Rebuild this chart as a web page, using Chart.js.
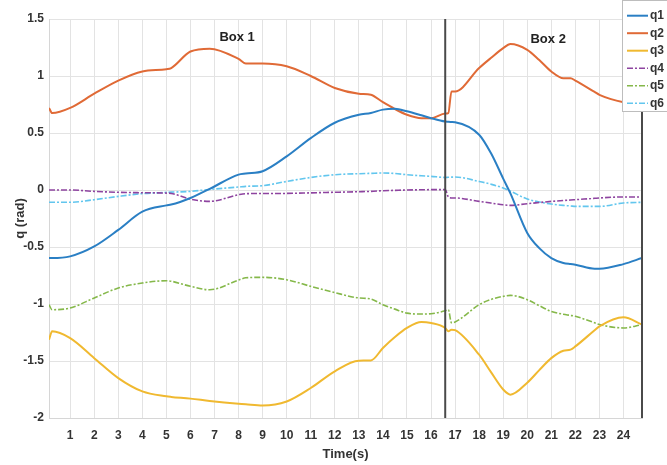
<!DOCTYPE html>
<html>
<head>
<meta charset="utf-8">
<script src="https://cdn.jsdelivr.net/npm/chart.js@4.4.1/dist/chart.umd.min.js"></script>
<style>
  html, body { margin: 0; padding: 0; background: #fff; }
  #wrap { width: 667px; height: 465px; }
</style>
</head>
<body>
<div id="wrap"><canvas id="lineChart"></canvas></div>
<script>
// time samples (s)
var time = [0.12, 0.25, 1, 2, 3, 4, 5, 5.2, 6, 6.8, 8, 8.3, 9, 10, 11, 12, 13, 13.5, 14, 14.5, 15, 15.6, 16, 16.59, 16.72, 16.85, 17, 18, 18.5, 19, 19.3, 20, 20.5, 21, 21.5, 21.8, 22, 22.8, 23, 24, 24.77];

var q1 = [-0.597, -0.597, -0.582, -0.495, -0.35, -0.19, -0.135, -0.128, -0.07, 0.01, 0.135, 0.145, 0.165, 0.295, 0.455, 0.59, 0.66, 0.675, 0.705, 0.712, 0.69, 0.655, 0.63, 0.6, 0.598, 0.597, 0.595, 0.485, 0.32, 0.1, -0.03, -0.377, -0.51, -0.597, -0.64, -0.65, -0.655, -0.69, -0.69, -0.65, -0.597];
var q2 = [0.72, 0.675, 0.72, 0.845, 0.96, 1.04, 1.06, 1.07, 1.215, 1.24, 1.15, 1.11, 1.11, 1.085, 1.0, 0.895, 0.845, 0.835, 0.77, 0.71, 0.66, 0.63, 0.63, 0.67, 0.675, 0.865, 0.865, 1.07, 1.16, 1.245, 1.28, 1.23, 1.14, 1.04, 0.98, 0.98, 0.96, 0.86, 0.835, 0.77, 0.75];
var q3 = [-1.313, -1.24, -1.3, -1.475, -1.65, -1.767, -1.81, -1.815, -1.83, -1.85, -1.875, -1.88, -1.89, -1.855, -1.737, -1.59, -1.497, -1.495, -1.386, -1.29, -1.21, -1.158, -1.167, -1.21, -1.24, -1.225, -1.23, -1.445, -1.6, -1.75, -1.795, -1.69, -1.58, -1.475, -1.41, -1.4, -1.372, -1.23, -1.196, -1.117, -1.18];
var q4 = [0, 0, 0, -0.012, -0.02, -0.024, -0.027, -0.03, -0.08, -0.1, -0.041, -0.032, -0.031, -0.03, -0.025, -0.02, -0.015, -0.012, -0.006, -0.003, 0, 0.002, 0.003, 0.003, -0.06, -0.07, -0.07, -0.1, -0.115, -0.13, -0.135, -0.12, -0.11, -0.1, -0.092, -0.088, -0.085, -0.073, -0.07, -0.061, -0.061];
var q5 = [-1.006, -1.05, -1.035, -0.947, -0.86, -0.816, -0.796, -0.8, -0.845, -0.875, -0.79, -0.77, -0.766, -0.787, -0.845, -0.9, -0.947, -0.956, -1.006, -1.045, -1.08, -1.088, -1.085, -1.06, -1.05, -1.165, -1.158, -1.006, -0.96, -0.933, -0.924, -0.962, -1.015, -1.065, -1.09, -1.1, -1.108, -1.165, -1.18, -1.21, -1.18];
var q6 = [-0.108, -0.108, -0.108, -0.085, -0.056, -0.032, -0.021, -0.019, -0.012, 0.005, 0.026, 0.032, 0.038, 0.075, 0.11, 0.134, 0.143, 0.146, 0.149, 0.145, 0.134, 0.125, 0.12, 0.11, 0.112, 0.113, 0.114, 0.075, 0.05, 0.018, -0.01, -0.079, -0.105, -0.123, -0.135, -0.14, -0.144, -0.144, -0.144, -0.114, -0.108];

var seriesNames = ['q1', 'q2', 'q3', 'q4', 'q5', 'q6'];
var xTicks = [1, 2, 3, 4, 5, 6, 7, 8, 9, 10, 11, 12, 13, 14, 15, 16, 17, 18, 19, 20, 21, 22, 23, 24];
var markerTimes = [16.59, 24.77];
var boxLabels = ['Box 1', 'Box 2'];
var boxLabelAt = [[7.94, 1.336], [20.87, 1.318]];

var colors = ['#2a7fc4', '#e06a36', '#f0b930', '#8e44a0', '#85b84a', '#62c6ee'];
var dashes = [[], [], [], [6, 2, 2, 2], [6, 2, 2, 2], [6, 2, 2, 2]];
var widths = [2, 2, 2, 1.6, 1.6, 1.6];
var FONT = "'Liberation Sans Narrow', 'Liberation Sans', Arial, sans-serif";

function pairs(vals) {
    return time.map(function (t, i) { return { x: t, y: vals[i] }; });
}

var allSeries = [q1, q2, q3, q4, q5, q6];
var datasets = allSeries.map(function (vals, i) {
    return {
        label: seriesNames[i],
        data: pairs(vals),
        borderColor: colors[i],
        backgroundColor: colors[i],
        borderWidth: widths[i],
        borderDash: dashes[i],
        pointRadius: 0,
        cubicInterpolationMode: 'monotone',
        fill: false
    };
});

var extras = {
    id: 'extras',
    afterDatasetsDraw: function (chart) {
        var c = chart.ctx, xs = chart.scales.x, ys = chart.scales.y;
        c.save();
        c.strokeStyle = '#4a4a4a';
        c.lineWidth = 2;
        markerTimes.forEach(function (t) {
            var px = xs.getPixelForValue(t);
            c.beginPath();
            c.moveTo(px, ys.getPixelForValue(1.5));
            c.lineTo(px, ys.getPixelForValue(-2));
            c.stroke();
        });
        c.fillStyle = '#222';
        c.font = 'bold 13px ' + FONT;
        c.textAlign = 'center';
        c.textBaseline = 'middle';
        boxLabels.forEach(function (txt, i) {
            c.fillText(txt, xs.getPixelForValue(boxLabelAt[i][0]), ys.getPixelForValue(boxLabelAt[i][1]));
        });
        c.restore();
    },
    afterDraw: function (chart) {
        var c = chart.ctx;
        c.save();
        c.fillStyle = '#fff';
        c.strokeStyle = '#bdbdbd';
        c.lineWidth = 1;
        c.fillRect(622.5, 0.5, 50, 111);
        c.strokeRect(622.5, 0.5, 50, 111);
        c.font = 'bold 12px ' + FONT;
        c.textAlign = 'left';
        c.textBaseline = 'middle';
        chart.data.datasets.forEach(function (ds, i) {
            var y = 15.7 + i * 17.5;
            c.strokeStyle = ds.borderColor;
            c.lineWidth = ds.borderWidth;
            c.setLineDash(ds.borderDash);
            c.beginPath();
            c.moveTo(627, y);
            c.lineTo(648, y);
            c.stroke();
            c.setLineDash([]);
            c.fillStyle = '#333';
            c.fillText(ds.label, 650, y);
        });
        c.restore();
    }
};

var ctx = document.getElementById('lineChart').getContext('2d');
var myChart = new Chart(ctx, {
    type: 'line',
    data: { datasets: datasets },
    options: {
        responsive: true,
        maintainAspectRatio: false,
        animation: false,
        layout: { padding: { top: 19, right: 25, left: 0, bottom: 0 } },
        plugins: { legend: { display: false }, tooltip: { enabled: false } },
        scales: {
            x: {
                type: 'linear',
                min: 0.12,
                max: 24.77,
                afterBuildTicks: function (scale) {
                    scale.ticks = xTicks.map(function (v) { return { value: v }; });
                },
                afterFit: function (scale) { scale.height = 47; },
                grid: { color: '#e3e3e3', drawTicks: false },
                border: { color: '#d6d6d6' },
                ticks: { padding: 10, color: '#333', font: { family: FONT, size: 12, weight: 'bold' }, maxRotation: 0, autoSkip: false },
                title: { display: true, text: 'Time(s)', color: '#333', padding: { top: 0, bottom: 3 }, font: { family: FONT, size: 13, weight: 'bold' } }
            },
            y: {
                min: -2,
                max: 1.5,
                afterFit: function (scale) { scale.width = 49; },
                grid: { color: '#e3e3e3', drawTicks: false },
                border: { color: '#d6d6d6' },
                ticks: {
                    stepSize: 0.5, padding: 5, color: '#333',
                    font: { family: FONT, size: 12, weight: 'bold' },
                    callback: function (v) { return String(v); }
                },
                title: { display: true, text: 'q (rad)', color: '#333', padding: { top: 13, bottom: 0 }, font: { family: FONT, size: 13, weight: 'bold' } }
            }
        }
    },
    plugins: [extras]
});
</script>
</body>
</html>
